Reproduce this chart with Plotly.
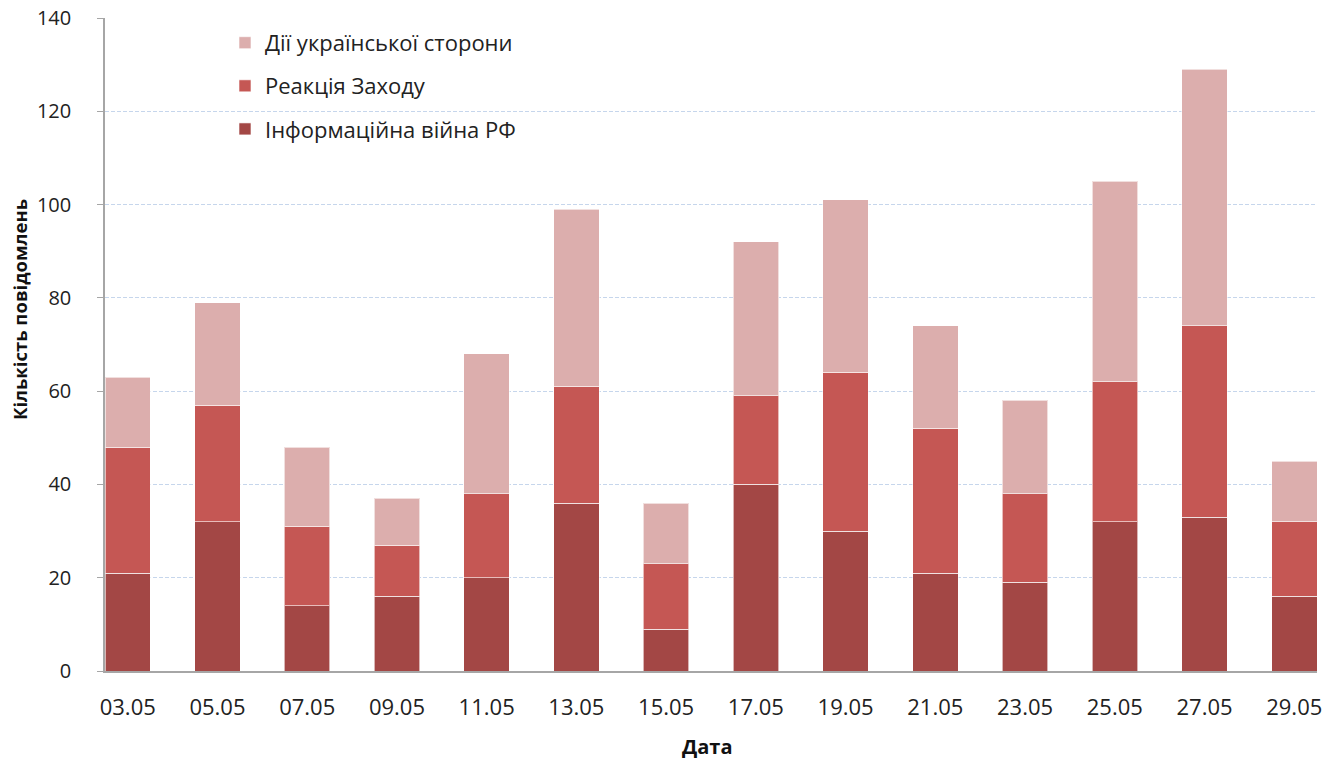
import plotly.graph_objects as go

# Dates (every other day in May)
dates = ["03.05", "05.05", "07.05", "09.05", "11.05", "13.05", "15.05",
         "17.05", "19.05", "21.05", "23.05", "25.05", "27.05", "29.05"]

# Message counts per category (stacked bottom to top)
info_war_rf = [21, 32, 14, 16, 20, 36, 9, 40, 30, 21, 19, 32, 33, 16]
west_reaction = [27, 25, 17, 11, 18, 25, 14, 19, 34, 31, 19, 30, 41, 16]
ukraine_actions = [15, 22, 17, 10, 30, 38, 13, 33, 37, 22, 20, 43, 55, 13]

y_ticks = [0, 20, 40, 60, 80, 100, 120, 140]

# (name, values, colour, legend rank - top entry first)
series = [
    ("Інформаційна війна РФ", info_war_rf, "#a34745", 3),
    ("Реакція Заходу", west_reaction, "#c55754", 2),
    ("Дії української сторони", ukraine_actions, "#dcaead", 1),
]

font_family = "Open Sans, Lato, DejaVu Sans, sans-serif"
x_pos = list(range(len(dates)))

W, H = 1340, 762
M_L, M_R, M_T, M_B = 105, 23, 18, 91

fig = go.Figure()
for i, (name, vals, color, rank) in enumerate(series):
    fig.add_trace(go.Bar(
        x=x_pos, y=vals, name=name, width=0.507,
        marker=dict(color=color, line=dict(color="rgba(255,255,255,0.6)", width=1)),
        legendgroup=f"g{i}", legendrank=rank,
    ))

def px_to_paper(px, py):
    return ((px - M_L) / (W - M_L - M_R), (H - M_B - py) / (H - M_T - M_B))

ytx, yty = px_to_paper(19, 310)
xtx, xty = px_to_paper(707, 746)

fig.update_layout(
    barmode="stack",
    width=W, height=H,
    margin=dict(l=M_L, r=M_R, t=M_T, b=M_B, autoexpand=False),
    paper_bgcolor="white", plot_bgcolor="white",
    font=dict(family=font_family, size=20, color="#222222"),
    showlegend=True,
    legend=dict(
        x=0.099, y=0.994, xanchor="left", yanchor="top",
        traceorder="grouped", tracegroupgap=11.5,
        font=dict(size=22, color="#222222"),
        bgcolor="rgba(0,0,0,0)",
    ),
    xaxis=dict(
        range=[-0.2535, 13.2535],
        tickmode="array", tickvals=x_pos, ticktext=dates,
        showline=True, linecolor="#a6a6a6", linewidth=1.5,
        ticks="", showgrid=False, zeroline=False,
        tickfont=dict(size=22, color="#222222"),
        ticklabelstandoff=16,
    ),
    yaxis=dict(
        range=[0, 140],
        tickmode="array", tickvals=y_ticks,
        showline=True, linecolor="#a6a6a6", linewidth=1.5,
        ticks="outside", ticklen=6, tickcolor="#a6a6a6",
        showgrid=True, gridcolor="#c6d6ec", griddash="4px,2px", gridwidth=1,
        zeroline=False,
        tickfont=dict(size=20, color="#222222"),
        ticklabelstandoff=22,
    ),
    annotations=[
        dict(text="<b>Кількість повідомлень</b>", textangle=-90,
             x=ytx, y=yty, xref="paper", yref="paper",
             xanchor="center", yanchor="middle", showarrow=False,
             font=dict(size=18.5, color="#111111")),
        dict(text="<b>Дата</b>",
             x=xtx, y=xty, xref="paper", yref="paper",
             xanchor="center", yanchor="middle", showarrow=False,
             font=dict(size=20, color="#111111")),
    ],
)

fig.write_html("out.html")
